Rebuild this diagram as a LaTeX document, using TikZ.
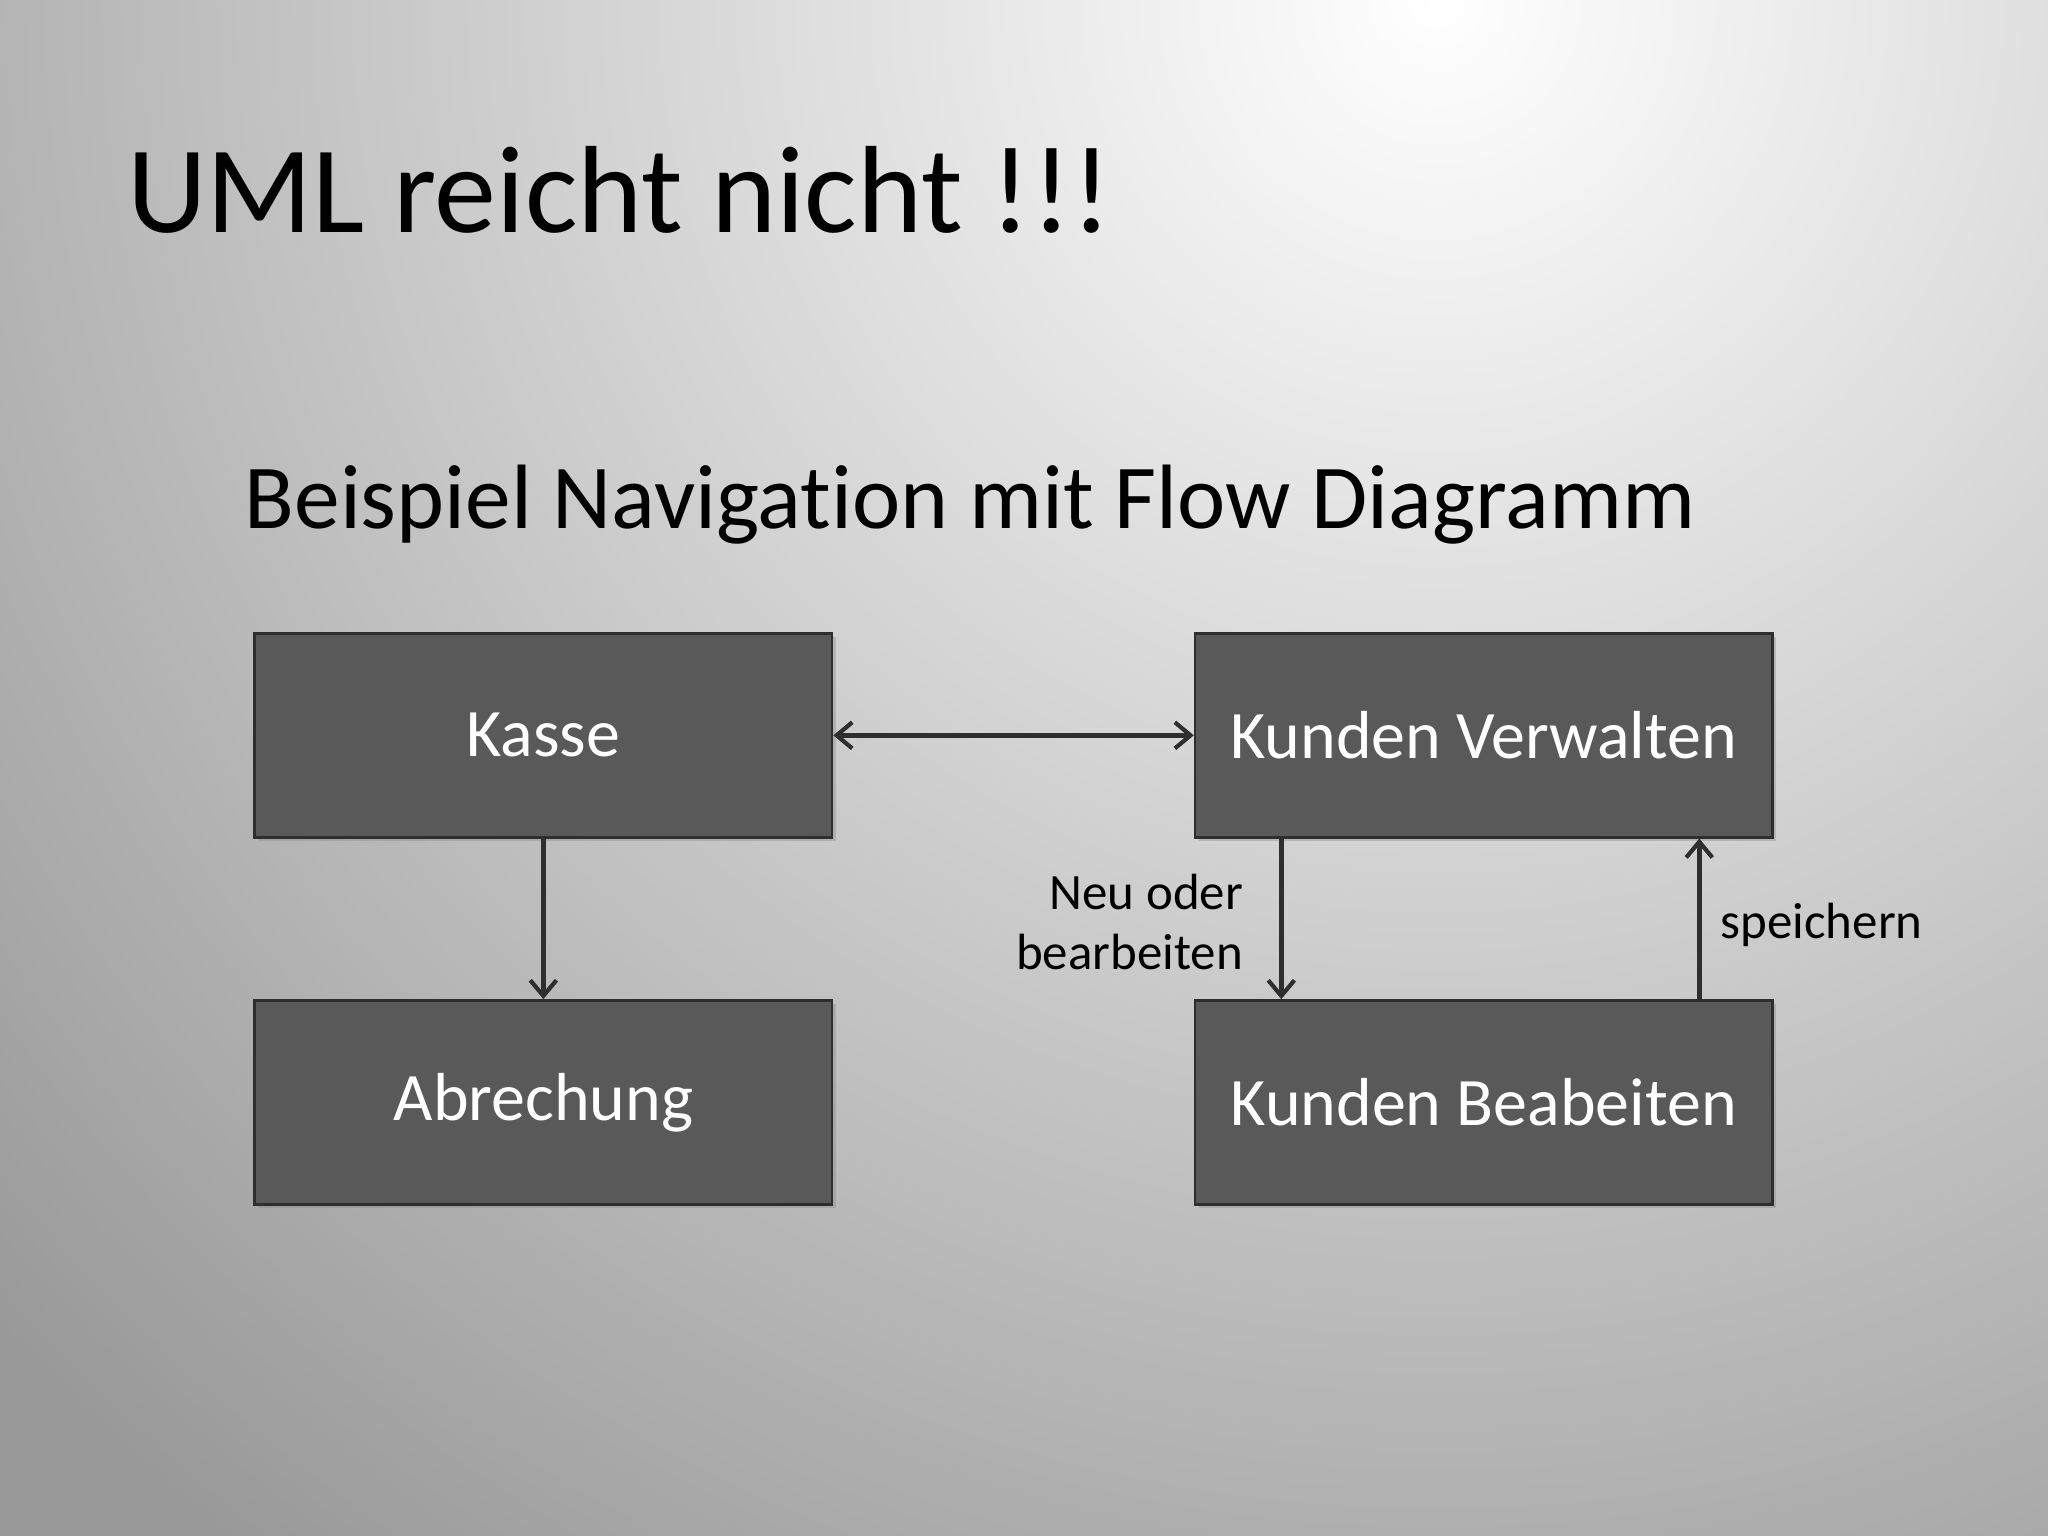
\documentclass[tikz,border=0pt]{standalone}
\usepackage{fontspec}
\setmainfont{Carlito}[Ligatures=NoCommon]
\usetikzlibrary{arrows.meta,shadows}
\definecolor{boxfill}{HTML}{595959}
\definecolor{linec}{HTML}{2E2E2E}
\begin{document}
\begin{tikzpicture}[x=0.5pt,y=-0.5pt,
  box/.style={draw=linec,line width=1pt,fill=boxfill,minimum width=221pt,minimum height=78pt,inner sep=0pt,text=white,font=\fontsize{26}{30}\selectfont,drop shadow={shadow xshift=1.5pt,shadow yshift=-1.5pt,opacity=0.35}},
  tip/.style={Straight Barb[length=6pt,width=10pt,line width=1.6pt]},
  conn/.style={draw=linec,line width=2pt,-{Straight Barb[length=6pt,width=10pt,line width=1.6pt]}},
  lbl/.style={font=\fontsize{19.5}{23}\selectfont,text=black}]
\useasboundingbox (0,0) rectangle (1568,1176);
\begin{scope}
\clip (0,0) rectangle (1568,1176);
\fill[black!40] (0,0) rectangle (1568,1176);
\shade[inner color=white,outer color=black!40] (1100,0) circle[radius=1500];
\end{scope}
\node[anchor=base west,inner sep=0pt,font=\fontsize{47.5}{56}\selectfont] (title) at (97,178) {UML reicht nicht !!!};
\node[anchor=base west,inner sep=0pt,font=\fontsize{35}{40}\selectfont] (sub) at (187,405) {Beispiel Navigation mit Flow Diagramm};
\node[box] (kasse) at (416,563) {Kasse};
\node[box] (kv) at (1136,563) {Kunden Verwalten};
\node[box] (ab) at (416,844) {Abrechung};
\node[box] (kb) at (1136,844) {Kunden Beabeiten};
\draw[conn,{Straight Barb[length=6pt,width=10pt,line width=1.6pt]}-{Straight Barb[length=6pt,width=10pt,line width=1.6pt]}] (kasse.east) -- (kv.west);
\draw[conn] (kasse.south) -- (ab.north);
\coordinate (kvs) at ([xshift=-77.5pt]kv.south);
\coordinate (kbn) at ([xshift=-77.5pt]kb.north);
\coordinate (kbn2) at ([xshift=82.5pt]kb.north);
\coordinate (kvs2) at ([xshift=82.5pt]kv.south);
\draw[conn] (kvs) -- (kbn);
\draw[conn] (kbn2) -- (kvs2);
\node[lbl,anchor=east,align=right,inner sep=0pt] (l1) at (952,706) {Neu oder\\bearbeiten};
\node[lbl,anchor=west,inner sep=0pt] (l2) at (1317,708) {speichern};
\end{tikzpicture}
\end{document}
